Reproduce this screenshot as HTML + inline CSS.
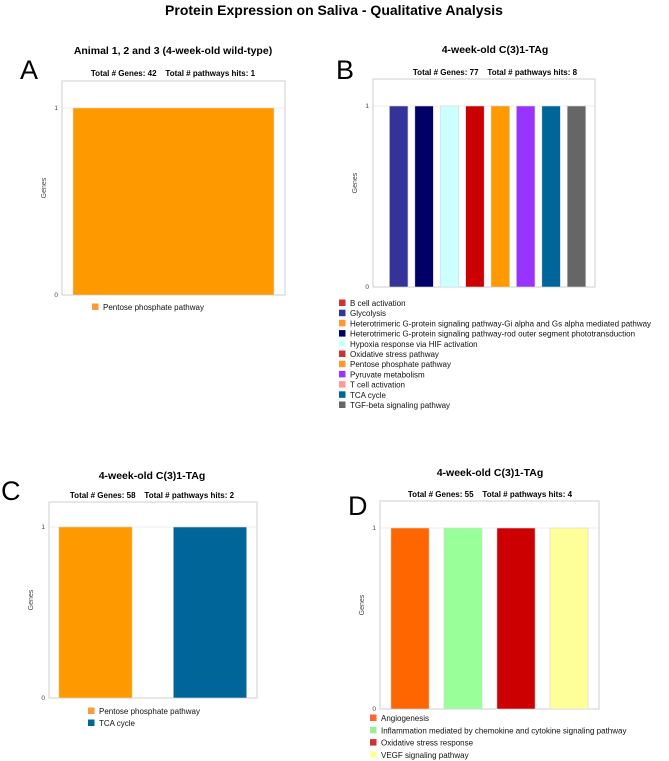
<!DOCTYPE html>
<html><head><meta charset="utf-8">
<style>
html,body{margin:0;padding:0;background:#fff;}
svg{display:block;font-family:"Liberation Sans",sans-serif;}
text{white-space:pre;}
.title{font-weight:bold;font-size:14px;}
.ptitle{font-weight:bold;font-size:10.5px;}
.sub{font-weight:bold;font-size:8px;}
.letter{font-size:27px;}
.tick{font-size:6.5px;fill:#444;}
.yt{font-size:7px;fill:#444;}
.leg{font-size:8px;fill:#111;}
</style></head>
<body>
<svg id="chart" width="669" height="761" viewBox="0 0 669 761">
<text class="title" x="334" y="15" text-anchor="middle">Protein Expression on Saliva - Qualitative Analysis</text>
</svg>
<script>
// Panel A data
const catsA = ["Pentose phosphate pathway"];
const valsA = [1];
const colorsA = ["#ff9900"];
const legendA = ["Pentose phosphate pathway"];
const legendColorsA = ["#ff9933"];
// Panel B data
const catsB = ["Glycolysis","Heterotrimeric G-protein rod","Hypoxia response via HIF activation","Oxidative stress pathway","Pentose phosphate pathway","Pyruvate metabolism","TCA cycle","TGF-beta signaling pathway"];
const valsB = [1,1,1,1,1,1,1,1];
const colorsB = ["#333399","#000066","#ccffff","#cc0000","#ff9900","#9933ff","#006699","#666666"];
const legendB = ["B cell activation","Glycolysis","Heterotrimeric G-protein signaling pathway-Gi alpha and Gs alpha mediated pathway","Heterotrimeric G-protein signaling pathway-rod outer segment phototransduction","Hypoxia response via HIF activation","Oxidative stress pathway","Pentose phosphate pathway","Pyruvate metabolism","T cell activation","TCA cycle","TGF-beta signaling pathway"];
const legendColorsB = ["#cc3333","#333399","#ff9933","#000066","#ccffff","#cc3333","#ff9933","#9933ff","#ff9999","#006699","#666666"];
// Panel C data
const catsC = ["Pentose phosphate pathway","TCA cycle"];
const valsC = [1,1];
const colorsC = ["#ff9900","#006699"];
const legendC = ["Pentose phosphate pathway","TCA cycle"];
const legendColorsC = ["#ff9933","#006699"];
// Panel D data
const catsD = ["Angiogenesis","Inflammation","Oxidative stress response","VEGF signaling pathway"];
const valsD = [1,1,1,1];
const colorsD = ["#ff6600","#99ff99","#cc0000","#ffff99"];
const legendD = ["Angiogenesis","Inflammation mediated by chemokine and cytokine signaling pathway","Oxidative stress response","VEGF signaling pathway"];
const legendColorsD = ["#ff6633","#99ee99","#cc3333","#ffff99"];
const yTicks = [0,1];

const NS = "http://www.w3.org/2000/svg";
const svg = document.getElementById("chart");
function mk(tag, attrs, parent){
  const e = document.createElementNS(NS, tag);
  for (const k in attrs) e.setAttribute(k, attrs[k]);
  (parent||svg).appendChild(e);
  return e;
}
function txt(cls, x, y, s, anchor, parent){
  const t = mk("text", {class:cls, x:x, y:y, "text-anchor":anchor||"start"}, parent);
  t.textContent = s;
  return t;
}

function panel(p){
  const g = mk("g", {});
  
  
  const L = txt("letter", p.lx, p.ly, p.letter, "start", g);
  
  
  const T = txt("ptitle", p.tx, p.ty, p.title, "middle", g);
  
  
  const S = txt("sub", p.tx, p.sy, p.sub, "middle", g);
  
  
  const fr = mk("rect", {x:p.x0, y:p.top, width:p.x1-p.x0, height:p.bot-p.top, fill:"none", stroke:"#cfcfcf", "stroke-width":1}, g);
  
  
  const yScale = v => p.bot - v*(p.bot - p.y1);
  p.ticks.forEach(v=>{
    const y = yScale(v);
    if (v>0){
      const gl = mk("line", {x1:p.x0, x2:p.x1, y1:y, y2:y, stroke:"#e6e6e6", "stroke-width":0.8}, g);
      
      
    }
    const tl = txt("tick", p.x0-4, y+2, String(v), "end", g);
    
    
  });
  const yt = txt("yt", 0, 0, "Genes", "middle", g);
  yt.setAttribute("transform", "translate(" + (p.x0-16) + "," + ((p.top+p.bot)/2) + ") rotate(-90)");
  
  
  p.cats.forEach((c,i)=>{
    const cx = p.x0 + p.pad + p.band*(i+0.5);
    const w = p.band*p.frac;
    const y = yScale(p.vals[i]);
    const b = mk("rect", {x:cx-w/2, y:y, width:w, height:p.bot-y, fill:p.colors[i], stroke:"#d8d8d8", "stroke-width":0.6}, g);
    
    
  });
  p.legend.forEach((s,i)=>{
    const y = p.legY + i*p.legDy;
    const lg = mk("g", {}, g);
    
    
    mk("rect", {x:p.legX, y:y-3.5, width:6.5, height:6.5, fill:p.legendColors[i]}, lg);
    txt("leg", p.legX+11, y+3, s, "start", lg);
  });
}

panel({id:"a", letter:"A", lx:20, ly:79, title:"Animal 1, 2 and 3 (4-week-old wild-type)", tx:173, ty:54, sub:"Total # Genes: 42    Total # pathways hits: 1", sy:76,
  x0:62, x1:285, top:81, bot:295, y1:108, pad:10, band:203, frac:0.99, ticks:yTicks,
  cats:catsA, vals:valsA, colors:colorsA, legend:legendA, legendColors:legendColorsA, legX:92, legY:307, legDy:12});
panel({id:"b", letter:"B", lx:336, ly:79, title:"4-week-old C(3)1-TAg", tx:495, ty:53, sub:"Total # Genes: 77    Total # pathways hits: 8", sy:75,
  x0:373, x1:595, top:79, bot:287, y1:106, pad:13, band:25.4, frac:0.73, ticks:yTicks,
  cats:catsB, vals:valsB, colors:colorsB, legend:legendB, legendColors:legendColorsB, legX:339, legY:303, legDy:10.2});
panel({id:"c", letter:"C", lx:1, ly:500, title:"4-week-old C(3)1-TAg", tx:152, ty:479, sub:"Total # Genes: 58    Total # pathways hits: 2", sy:498,
  x0:49, x1:257, top:502, bot:698, y1:527, pad:-10.75, band:114.5, frac:0.64, ticks:yTicks,
  cats:catsC, vals:valsC, colors:colorsC, legend:legendC, legendColors:legendColorsC, legX:88, legY:711, legDy:12});
panel({id:"d", letter:"D", lx:348, ly:515, title:"4-week-old C(3)1-TAg", tx:490, ty:476, sub:"Total # Genes: 55    Total # pathways hits: 4", sy:497,
  x0:380, x1:599, top:501, bot:709, y1:528, pad:3.5, band:53, frac:0.72, ticks:yTicks,
  cats:catsD, vals:valsD, colors:colorsD, legend:legendD, legendColors:legendColorsD, legX:370, legY:718, legDy:12.3});
</script>
</body></html>
